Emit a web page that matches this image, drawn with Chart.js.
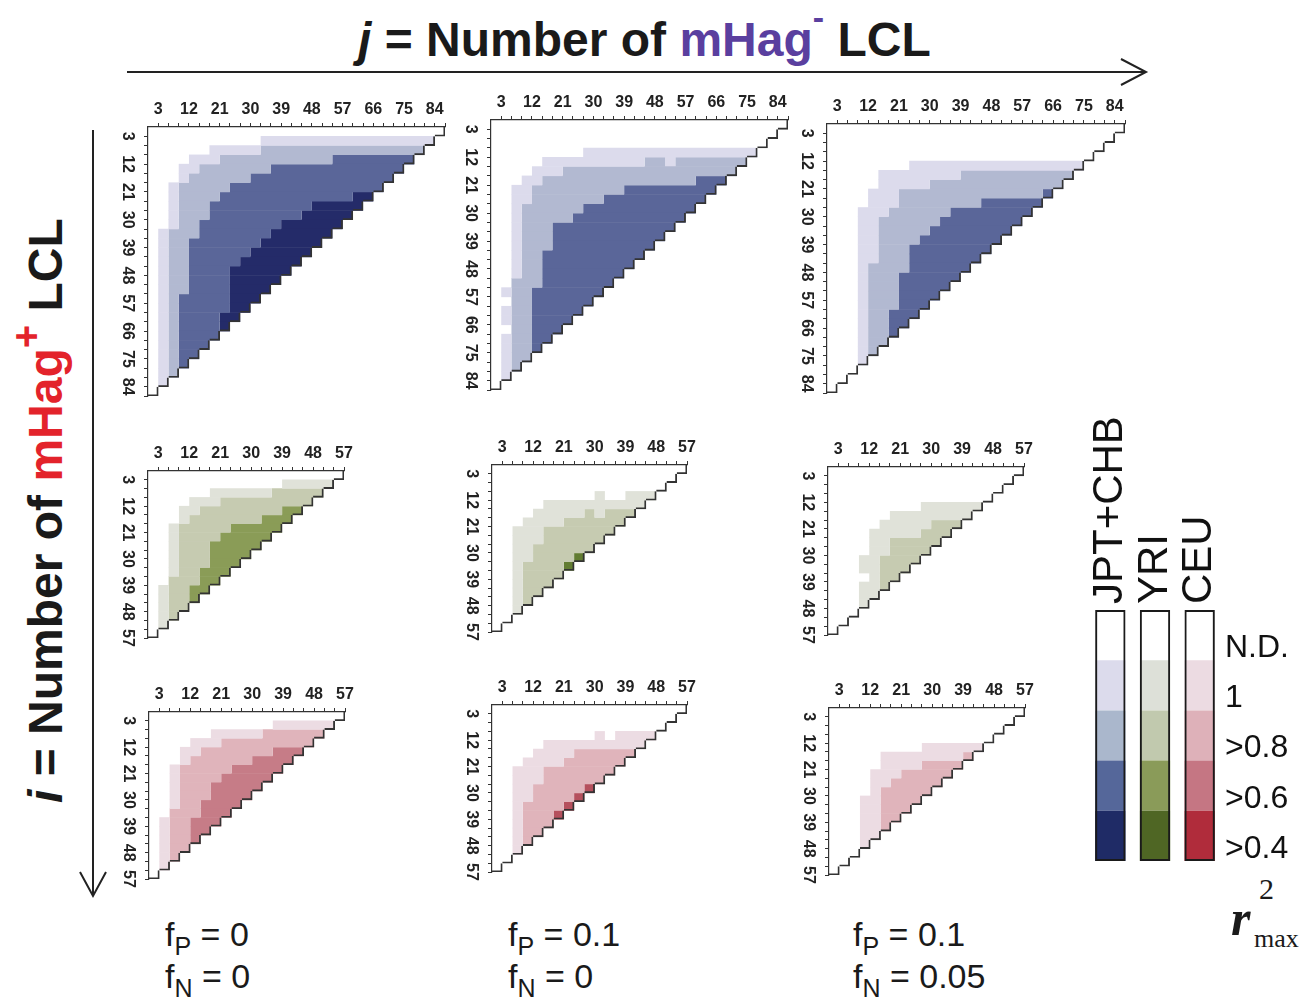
<!DOCTYPE html>
<html>
<head>
<meta charset="utf-8">
<script src="https://cdn.jsdelivr.net/npm/chart.js@4.4.1/dist/chart.umd.min.js"></script>
<style>
  html, body { margin: 0; padding: 0; background: #fff; }
  body { width: 1306px; height: 1001px; position: relative; overflow: hidden; }
  canvas { position: absolute; }
  svg { position: absolute; left: 0; top: 0; }
</style>
</head>
<body>
<svg id="art" width="1306" height="1001" font-family="'Liberation Sans', Arial, sans-serif">
  <text x="358" y="56" font-size="48" font-weight="bold" fill="#1a1a1a"><tspan font-style="italic">j</tspan> = Number of <tspan fill="#5a3f9f">mHag</tspan><tspan fill="#5a3f9f" font-size="34" dy="-27">-</tspan><tspan dy="27"> LCL</tspan></text>
  <line x1="127" y1="72" x2="1145" y2="72" stroke="#222" stroke-width="2"/>
  <polyline points="1121,59 1146,72 1121,85" fill="none" stroke="#222" stroke-width="2"/>
  <text transform="translate(62,803) rotate(-90)" font-size="48" font-weight="bold" fill="#1a1a1a"><tspan font-style="italic">i</tspan> = Number of <tspan fill="#e3232b">mHag</tspan><tspan fill="#e3232b" font-size="40" dy="-22">+</tspan><tspan dy="22"> LCL</tspan></text>
  <line x1="93" y1="130" x2="93" y2="895" stroke="#222" stroke-width="2"/>
  <polyline points="80,872 93,896 106,872" fill="none" stroke="#222" stroke-width="2"/>
  <text x="1231" y="935" font-family="'Liberation Serif', 'Times New Roman', serif" font-style="italic" font-weight="bold" font-size="50" fill="#1a1a1a">r</text>
  <text x="1259" y="899" font-family="'Liberation Serif', 'Times New Roman', serif" font-size="30" fill="#1a1a1a">2</text>
  <text x="1254" y="947" font-family="'Liberation Serif', 'Times New Roman', serif" font-size="26" fill="#1a1a1a">max</text>
</svg>
<canvas id="p1"></canvas><canvas id="p2"></canvas><canvas id="p3"></canvas>
<canvas id="p4"></canvas><canvas id="p5"></canvas><canvas id="p6"></canvas>
<canvas id="p7"></canvas><canvas id="p8"></canvas><canvas id="p9"></canvas>
<canvas id="legend"></canvas>
<script>
const ticks90 = [3, 12, 21, 30, 39, 48, 57, 66, 75, 84];
const ticks60 = [3, 12, 21, 30, 39, 48, 57];
const popNames = ['JPT+CHB', 'YRI', 'CEU'];
const levelNames = ['N.D.', '1', '>0.8', '>0.6', '>0.4'];
const fpText = ['0', '0.1', '0.1'];
const fnText = ['0', '0', '0.05'];

// r2max class of each cell: one string per row i = 3, 6, 9 ...; character k is j = 3(k+1)
// 0 = N.D., 1 = 1, 2 = >0.8, 3 = >0.6, 4 = >0.4
const jptA = [
  '00000000000000000000000000000',
  '0000000000011111111111111111',
  '000000111112222222222222222',
  '00001112222222222233333333',
  '0001122222223333333333333',
  '000122222233333333333333',
  '00122222333333333333333',
  '0012222333333333333344',
  '001222333333333344444',
  '00122233333333344444',
  '0012233333333444444',
  '012223333333444444',
  '01223333333444444',
  '0122333333444444',
  '012233333444444',
  '01223333444444',
  '0122333344444',
  '012233334444',
  '01233333444',
  '0123333344',
  '012333344',
  '01233334',
  '0123333',
  '012333',
  '01233',
  '0123',
  '012',
  '01',
  '0'
];
const jptB = [
  '00000000000000000000000000000',
  '0000000000000000000000000000',
  '000000000000000000000000000',
  '00000000011111111111111111',
  '0000011111111112212222222',
  '000011122222222222222222',
  '00011222222222222222333',
  '0011222222222333333333',
  '001122222223333333333',
  '00122222233333333333',
  '0012222233333333333',
  '001222333333333333',
  '00122233333333333',
  '0012223333333333',
  '001223333333333',
  '00122333333333',
  '0012233333333',
  '002223333333',
  '01223333333',
  '0022333333',
  '012233333',
  '01223333',
  '0022333',
  '012233',
  '01223',
  '0122',
  '012',
  '01',
  '0'
];
const jptC = [
  '00000000000000000000000000000',
  '0000000000000000000000000000',
  '000000000000000000000000000',
  '00000000000000000000000000',
  '0000000011111111111111111',
  '000001111111122222222222',
  '00000111112222222222222',
  '0000111222222222222223',
  '000011122222222333333',
  '00011122222233333333',
  '0001122222233333333',
  '000112222233333333',
  '00011222233333333',
  '0001122233333333',
  '000112223333333',
  '00012222333333',
  '0001222333333',
  '000122233333',
  '00012223333',
  '0001222333',
  '000122333',
  '00012233',
  '0001223',
  '000122',
  '00012',
  '0001',
  '000',
  '00',
  '0'
];
const yriA = [
  '0000000000000000000',
  '000000000000011111',
  '00000011111122222',
  '0000111222222222',
  '000112222222233',
  '00012222222333',
  '0012222233333',
  '001222233333',
  '00122233333',
  '0012223333',
  '001222333',
  '00122333',
  '0022233',
  '012233',
  '01223',
  '0122',
  '012',
  '01',
  '0'
];
const yriB = [
  '0000000000000000000',
  '000000000000000000',
  '00000000000000000',
  '0000000000100111',
  '000001111111111',
  '00001111121222',
  '0001111222222',
  '001112222222',
  '00111222222',
  '0011222222',
  '001122224',
  '00122224',
  '0012222',
  '001222',
  '00122',
  '0012',
  '001',
  '00',
  '0'
];
const yriC = [
  '0000000000000000000',
  '000000000000000000',
  '00000000000000000',
  '0000000000000000',
  '000000000111111',
  '00000011111111',
  '0000011111222',
  '000011111222',
  '00001122222',
  '0000112222',
  '000112222',
  '00011222',
  '0000122',
  '000112',
  '00011',
  '0001',
  '000',
  '00',
  '0'
];
const ceuA = [
  '0000000000000000000',
  '000000000000111111',
  '00000011111222222',
  '0000111222222222',
  '000112222222333',
  '00012222223333',
  '0012222233333',
  '001222233333',
  '00122233333',
  '0012223333',
  '001223333',
  '00222333',
  '0122333',
  '012233',
  '01223',
  '0122',
  '012',
  '01',
  '0'
];
const ceuB = [
  '0000000000000000000',
  '000000000000000000',
  '00000000000000000',
  '0000000000101111',
  '000001111111111',
  '00001111222222',
  '0001111222222',
  '001112222222',
  '00111222222',
  '0011222224',
  '001122224',
  '00122224',
  '0012224',
  '001222',
  '00122',
  '0012',
  '001',
  '00',
  '0'
];
const ceuC = [
  '0000000000000000000',
  '000000000000000000',
  '00000000000000000',
  '0000000000000000',
  '000000000111111',
  '00000111111112',
  '0000011112222',
  '000011122222',
  '00001122222',
  '0000122222',
  '000112222',
  '00011222',
  '0001122',
  '000112',
  '00011',
  '0001',
  '000',
  '00',
  '0'
];

const palettes = {
  'JPT+CHB': ['#ffffff', '#dcdbec', '#b2b9d1', '#5a6699', '#242b69'],
  'YRI': ['#ffffff', '#e0e2d9', '#c6cbb1', '#8a9c57', '#627c32'],
  'CEU': ['#ffffff', '#ecdce3', '#e0b4bb', '#c67c87', '#b5505d']
};
const keyColors = {
  'JPT+CHB': ['#ffffff', '#dcdbec', '#aab7cc', '#55679a', '#1f2b66'],
  'YRI': ['#ffffff', '#dde0d8', '#c1c9ae', '#8a9b59', '#4f6624'],
  'CEU': ['#ffffff', '#ecdbe2', '#deb1b9', '#c57683', '#b02c3b']
};

// chart area of each panel on the page: left, top, width, height
const panels = [
  { id: 'p1', rows: jptA, pop: 'JPT+CHB', n: 29, labels: ticks90, box: [148, 127, 297, 269] },
  { id: 'p2', rows: jptB, pop: 'JPT+CHB', n: 29, labels: ticks90, box: [491, 120, 297, 270] },
  { id: 'p3', rows: jptC, pop: 'JPT+CHB', n: 29, labels: ticks90, box: [827, 124, 298, 269] },
  { id: 'p4', rows: yriA, pop: 'YRI', n: 19, labels: ticks60, box: [148, 471, 196, 167] },
  { id: 'p5', rows: yriB, pop: 'YRI', n: 19, labels: ticks60, box: [492, 465, 195, 167] },
  { id: 'p6', rows: yriC, pop: 'YRI', n: 19, labels: ticks60, box: [828, 467, 196, 168] },
  { id: 'p7', rows: ceuA, pop: 'CEU', n: 19, labels: ticks60, box: [149, 712, 196, 167] },
  { id: 'p8', rows: ceuB, pop: 'CEU', n: 19, labels: ticks60, box: [492, 705, 195, 167] },
  { id: 'p9', rows: ceuC, pop: 'CEU', n: 19, labels: ticks60, box: [829, 708, 196, 167] }
];

const tickFont = { family: '"Liberation Sans", Arial, sans-serif', size: 16, weight: 'bold' };

function sideLabels(values) {
  return {
    id: 'sideLabels',
    afterDraw(chart) {
      const ctx = chart.ctx, y = chart.scales.y;
      ctx.save();
      ctx.font = 'bold 16px "Liberation Sans", Arial, sans-serif';
      ctx.fillStyle = '#222';
      ctx.textAlign = 'center';
      ctx.textBaseline = 'middle';
      values.forEach(v => {
        ctx.save();
        ctx.translate(chart.chartArea.left - 21, y.getPixelForValue(v));
        ctx.rotate(Math.PI / 2);
        ctx.fillText(String(v), 0, 0);
        ctx.restore();
      });
      ctx.restore();
    }
  };
}

function makePanel(p) {
  const AXL = 34, AXT = 30, PR = 14, PB = 14;
  const [left, top, w, h] = p.box;
  const cv = document.getElementById(p.id);
  cv.width = w + AXL + PR; cv.height = h + AXT + PB;
  cv.style.left = (left - AXL) + 'px'; cv.style.top = (top - AXT) + 'px';
  const max = p.n * 3;
  const steps = [];
  for (let v = 3; v <= max; v += 3) steps.push(v);
  const colors = palettes[p.pop];

  // runs of equal class in each row become floating bars
  const groups = {};
  p.rows.forEach((row, r) => {
    const yc = 3 * r + 1.5;
    const seen = {};
    let k = 0;
    while (k < row.length) {
      let e = k;
      while (e + 1 < row.length && row[e + 1] === row[k]) e++;
      const lv = +row[k];
      if (lv > 0) {
        seen[lv] = (seen[lv] || 0) + 1;
        const key = lv + '_' + seen[lv];
        if (!groups[key]) groups[key] = { lv, data: [] };
        groups[key].data.push({ x: [3 * k, 3 * (e + 1)], y: yc });
      }
      k = e + 1;
    }
  });
  const datasets = Object.values(groups).map(g => ({
    data: g.data, backgroundColor: colors[g.lv], borderWidth: 0,
    grouped: false, barPercentage: 1.06, categoryPercentage: 1, order: 1
  }));

  // diagonal edge: right and bottom side of the last cell of every row
  const edge = [];
  for (let r = 0; r < p.n; r++) {
    const len = p.n - r;
    edge.push({ x: [3 * (len - 1), 3 * len], y: 3 * r + 1.5 });
  }
  datasets.push({
    data: edge, backgroundColor: 'rgba(0,0,0,0)', borderColor: '#333',
    borderWidth: { top: 0, left: 0, right: 1.2, bottom: 1.2 }, borderSkipped: false,
    grouped: false, barPercentage: 1, categoryPercentage: 1, order: 0
  });

  new Chart(cv, {
    type: 'bar',
    data: { datasets },
    options: {
      indexAxis: 'y', responsive: false, animation: false, devicePixelRatio: 1,
      layout: { padding: { left: 0, top: 0, right: PR, bottom: PB } },
      plugins: { legend: { display: false }, tooltip: { enabled: false } },
      scales: {
        x: {
          type: 'linear', position: 'top', min: 0, max,
          afterBuildTicks: s => { s.ticks = steps.map(v => ({ value: v })); },
          afterFit: s => { s.height = AXT; },
          grid: { drawOnChartArea: false, tickLength: 4, color: '#333' },
          border: { color: '#333', width: 1.2 },
          ticks: { autoSkip: false, maxRotation: 0, padding: 4, color: '#222', font: tickFont,
                   callback: v => p.labels.includes(v) ? String(v) : '' }
        },
        y: {
          type: 'linear', reverse: true, min: 0, max, offset: false,
          afterBuildTicks: s => { s.ticks = steps.map(v => ({ value: v })); },
          afterFit: s => { s.width = AXL; },
          grid: { drawOnChartArea: false, tickLength: 4, color: '#333', offset: false },
          border: { color: '#333', width: 1.2 },
          ticks: { display: false }
        }
      }
    },
    plugins: [sideLabels(p.labels)]
  });
}

panels.forEach(makePanel);

// colour key
(function () {
  const cv = document.getElementById('legend');
  const areaLeft = 1088, areaTop = 610, w = 134, h = 251, AXT = 200, AXR = 80, PL = 10, PBL = 40;
  cv.width = PL + w + AXR; cv.height = AXT + h + PBL;
  cv.style.left = (areaLeft - PL) + 'px'; cv.style.top = (areaTop - AXT) + 'px';
  const bottomUp = [4, 3, 2, 1, 0];
  const datasets = bottomUp.map(lv => ({
    label: levelNames[lv], data: popNames.map(() => 1),
    backgroundColor: popNames.map(pn => keyColors[pn][lv]), borderWidth: 0,
    grouped: false, barPercentage: 0.68, categoryPercentage: 1, stack: 'c', order: 1
  }));
  datasets.push({
    data: popNames.map(() => levelNames.length), backgroundColor: 'rgba(0,0,0,0)',
    borderColor: '#1a1a1a', borderWidth: 2, borderSkipped: false,
    grouped: false, barPercentage: 0.68, categoryPercentage: 1, stack: 'f', order: 0
  });
  const headers = {
    id: 'headers',
    afterDraw(chart) {
      const ctx = chart.ctx, x = chart.scales.x;
      ctx.save();
      ctx.font = '42px "Liberation Sans", Arial, sans-serif';
      ctx.fillStyle = '#111';
      ctx.textAlign = 'left';
      ctx.textBaseline = 'middle';
      popNames.forEach((name, i) => {
        ctx.save();
        ctx.translate(x.getPixelForValue(i), chart.chartArea.top - 6);
        ctx.rotate(-Math.PI / 2);
        ctx.fillText(name, 0, 0);
        ctx.restore();
      });
      ctx.restore();
    }
  };
  new Chart(cv, {
    type: 'bar',
    data: { labels: popNames, datasets },
    options: {
      responsive: false, animation: false, devicePixelRatio: 1,
      layout: { padding: { left: PL, top: 0, right: 0, bottom: PBL } },
      plugins: { legend: { display: false }, tooltip: { enabled: false } },
      scales: {
        x: {
          position: 'top', afterFit: s => { s.height = AXT; },
          grid: { display: false, drawTicks: false }, border: { display: false },
          ticks: { display: false }
        },
        y: {
          position: 'right', stacked: true, min: 0, max: levelNames.length,
          afterBuildTicks: s => { s.ticks = [0.5, 1.5, 2.5, 3.5, 4.5].map(v => ({ value: v })); },
          afterFit: s => { s.width = AXR; },
          grid: { display: false, drawTicks: false }, border: { display: false },
          ticks: { padding: 3, labelOffset: 13, color: '#111',
                   font: { family: '"Liberation Sans", Arial, sans-serif', size: 32 },
                   callback: v => levelNames[Math.round(4.5 - v)] }
        }
      }
    },
    plugins: [headers]
  });
})();

// fP / fN captions under each column
(function () {
  const svg = document.getElementById('art');
  const ns = 'http://www.w3.org/2000/svg';
  const xs = [165, 508, 853];
  function caption(x, y, sub, value) {
    const t = document.createElementNS(ns, 'text');
    t.setAttribute('x', x); t.setAttribute('y', y);
    t.setAttribute('font-size', '34'); t.setAttribute('fill', '#1a1a1a');
    t.innerHTML = 'f<tspan font-size="25" dy="9">' + sub + '</tspan><tspan dy="-9"> = ' + value + '</tspan>';
    svg.appendChild(t);
  }
  xs.forEach((x, c) => {
    caption(x, 946, 'P', fpText[c]);
    caption(x, 988, 'N', fnText[c]);
  });
})();
</script>
</body>
</html>
